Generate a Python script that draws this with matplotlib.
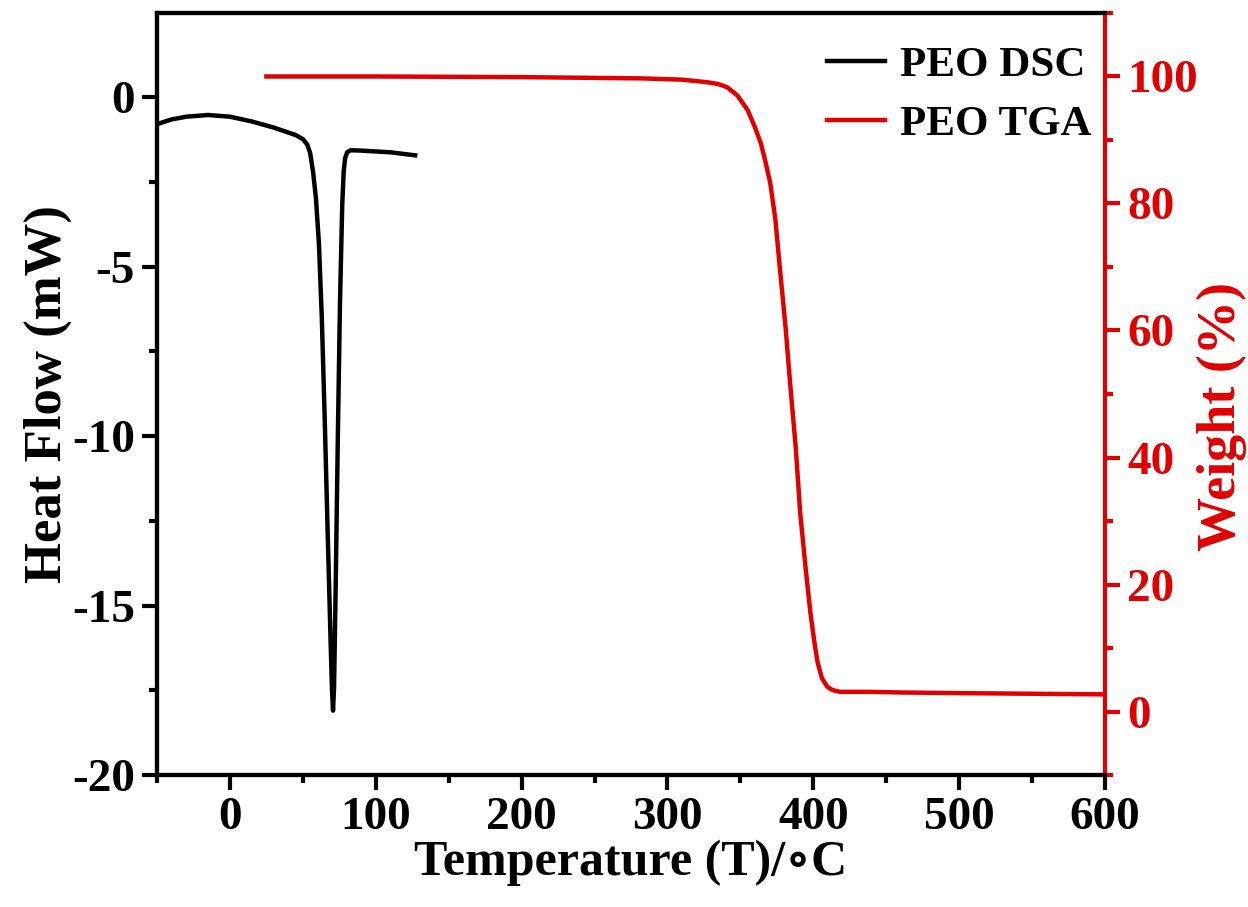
import matplotlib
matplotlib.use("Agg")
import matplotlib.pyplot as plt
from matplotlib.ticker import MultipleLocator

plt.rcParams["font.family"] = ["Liberation Serif", "DejaVu Serif"]
plt.rcParams["font.weight"] = "bold"
plt.rcParams["axes.unicode_minus"] = False

# DSC trace (temperature in C, heat flow in mW)
dsc_temp = [-50, -40, -30, -15, 0, 15, 30, 45, 50, 53, 55, 57, 59, 61, 63, 65,
            67, 69, 70, 70.7, 71.4, 72.5, 74, 75.5, 77, 78, 79, 80.5, 83, 90,
            110, 127]
dsc_hf = [-0.80, -0.66, -0.58, -0.53, -0.58, -0.72, -0.90, -1.12, -1.24, -1.40,
          -1.65, -2.2, -3.0, -4.3, -6.5, -9.5, -12.8, -16.0, -17.5, -18.1,
          -17.4, -14.5, -10.0, -6.0, -3.2, -2.2, -1.8, -1.62, -1.57, -1.58,
          -1.63, -1.72]

# TGA trace (temperature in C, weight %)
tga_temp = [25, 100, 200, 282, 310, 327, 335, 341, 348, 355, 360, 364, 367,
            370.5, 374, 377, 381, 384, 388, 391, 395, 398, 401, 403, 406,
            409.6, 413, 418, 440, 460, 500, 550, 600]
tga_wt = [100, 100, 99.9, 99.7, 99.5, 99.1, 98.8, 98.3, 97.0, 94.7, 92.0, 89.5,
          86.8, 83.2, 77.5, 70.0, 60.5, 52.0, 41.5, 31.3, 22.0, 15.6, 10.5,
          7.7, 5.2, 3.9, 3.4, 3.1, 3.1, 3.0, 2.9, 2.8, 2.7]

RED = "#e00000"

fig = plt.figure(figsize=(12.48, 9.07), dpi=100)
ax = fig.add_axes([0.1258, 0.1455, 0.7596, 0.8402])
ax2 = ax.twinx()

ln1, = ax.plot(dsc_temp, dsc_hf, color="black", lw=3.2, label="PEO DSC")
ln2, = ax2.plot(tga_temp, tga_wt, color=RED, lw=3.2, label="PEO TGA")

ax.set_xlim(-50, 600)
ax.set_ylim(-20, 2.48)
ax2.set_ylim(-10, 110)

ax.xaxis.set_major_locator(MultipleLocator(100))
ax.xaxis.set_minor_locator(MultipleLocator(50))
ax.set_yticks([-20, -15, -10, -5, 0])
ax.set_yticks([-17.5, -12.5, -7.5, -2.5], minor=True)
ax2.set_yticks([0, 20, 40, 60, 80, 100])
ax2.set_yticks([-10, 10, 30, 50, 70, 90, 110], minor=True)

for sp in ["left", "bottom", "top"]:
    ax.spines[sp].set_linewidth(3)
    ax2.spines[sp].set_linewidth(3)
ax2.spines["right"].set_linewidth(3)
ax2.spines["right"].set_color(RED)
ax.spines["right"].set_visible(False)

ax.tick_params(axis="both", which="major", direction="out", length=11,
               width=3, labelsize=34, pad=5)
ax.tick_params(axis="both", which="minor", direction="out", length=6, width=3)
ax2.tick_params(axis="y", which="major", direction="out", length=11, width=3,
                labelsize=34, colors=RED, pad=5)
ax2.tick_params(axis="y", which="minor", direction="out", length=6, width=3,
                colors=RED)

for lab in ax.get_xticklabels() + ax.get_yticklabels() + ax2.get_yticklabels():
    lab.set_fontweight("bold")

ax.set_xlabel("Temperature (T)/\u2218C", fontsize=36, fontweight="bold",
              labelpad=0)
ax.set_ylabel("Heat Flow (mW)", fontsize=38, fontweight="bold", labelpad=0)
ax2.set_ylabel("Weight (%)", fontsize=39, fontweight="bold", color=RED)
ax2.yaxis.set_label_coords(1.097, 0.47)

leg = ax.legend(handles=[ln1, ln2], loc="upper right", frameon=False,
                prop={"weight": "bold", "size": 31},
                handlelength=1.35, handletextpad=0.35, labelspacing=0.45,
                borderaxespad=0, borderpad=0.2,
                bbox_to_anchor=(0.995, 0.968))

fig.savefig("out.png", dpi=100)
